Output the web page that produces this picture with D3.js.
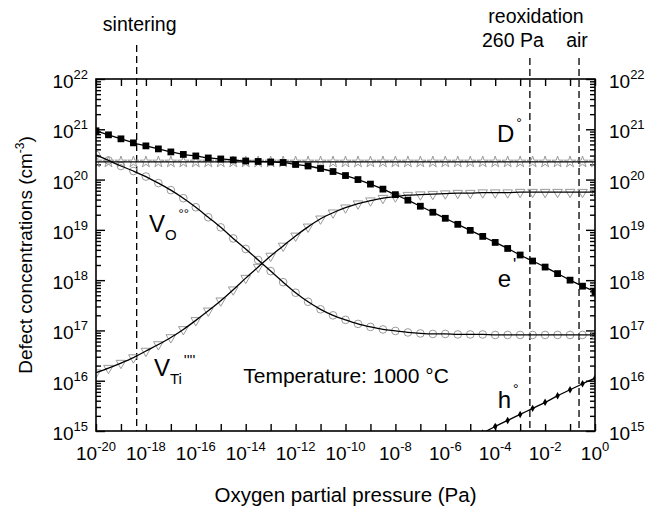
<!DOCTYPE html>
<html>
<head>
<meta charset="utf-8">
<script src="https://cdn.jsdelivr.net/npm/d3@7"></script>
<style>
  body { margin: 0; background: #fff; }
  text { font-family: "Liberation Sans", Arial, sans-serif; fill: #000; }
</style>
</head>
<body>
<div id="chart"></div>
<script>

// oxygen partial pressure, log10(Pa)
var pressureExp = [-20, -19.5, -19, -18.5, -18, -17.5, -17, -16.5, -16, -15.5,
  -15, -14.5, -14, -13.5, -13, -12.5, -12, -11.5, -11, -10.5,
  -10, -9.5, -9, -8.5, -8, -7.5, -7, -6.5, -6, -5.5,
  -5, -4.5, -4, -3.5, -3, -2.5, -2, -1.5, -1, -0.5, 0];

// defect concentrations, log10(cm^-3)
var electrons = [20.97, 20.89, 20.81, 20.73, 20.67, 20.61, 20.55, 20.50, 20.47, 20.43,
  20.41, 20.39, 20.37, 20.36, 20.35, 20.34, 20.30, 20.27, 20.22, 20.16,
  20.08, 20.00, 19.91, 19.81, 19.70, 19.59, 19.47, 19.35, 19.23, 19.11,
  18.99, 18.87, 18.75, 18.63, 18.50, 18.38, 18.26, 18.13, 18.00, 17.88, 17.77];

var donors = [20.35, 20.35, 20.35, 20.35, 20.35, 20.35, 20.35, 20.35, 20.35, 20.35,
  20.35, 20.35, 20.35, 20.35, 20.35, 20.35, 20.35, 20.35, 20.35, 20.35,
  20.35, 20.35, 20.35, 20.35, 20.35, 20.35, 20.35, 20.35, 20.35, 20.35,
  20.35, 20.35, 20.35, 20.35, 20.35, 20.35, 20.35, 20.35, 20.35, 20.35, 20.35];

var oxygenVacancies = [20.49, 20.38, 20.27, 20.17, 20.06, 19.93, 19.79, 19.63, 19.45, 19.25,
  19.05, 18.83, 18.62, 18.40, 18.18, 17.96, 17.75, 17.57, 17.42, 17.30,
  17.21, 17.13, 17.07, 17.02, 16.99, 16.96, 16.94, 16.93, 16.93, 16.92,
  16.92, 16.92, 16.91, 16.91, 16.91, 16.91, 16.91, 16.91, 16.91, 16.91, 16.91];

var titaniumVacancies = [16.16, 16.25, 16.35, 16.46, 16.59, 16.72, 16.86, 17.02, 17.20, 17.39,
  17.59, 17.81, 18.04, 18.26, 18.48, 18.68, 18.88, 19.06, 19.22, 19.34,
  19.44, 19.52, 19.58, 19.63, 19.66, 19.69, 19.70, 19.71, 19.72, 19.73,
  19.73, 19.74, 19.74, 19.74, 19.75, 19.75, 19.75, 19.75, 19.75, 19.75, 19.75];

var holePressureExp = [-4.5, -4, -3.5, -3, -2.5, -2, -1.5, -1, -0.5, 0];
var holes = [14.96, 15.09, 15.21, 15.33, 15.45, 15.57, 15.70, 15.82, 15.94, 16.05];

var xTickExps = [-20, -19, -18, -17, -16, -15, -14, -13, -12, -11, -10,
  -9, -8, -7, -6, -5, -4, -3, -2, -1, 0];
var xLabelExps = [-20, -18, -16, -14, -12, -10, -8, -6, -4, -2, 0];
var yLabelExps = [15, 16, 17, 18, 19, 20, 21, 22];

// process conditions marked with dashed lines, log10(Pa)
var conditionNames = ["sintering", "260 Pa", "air"];
var conditionExps = [-18.37, -2.61, -0.64];

var width = 645, height = 507;
var plotLeft = 96, plotRight = 595, plotTop = 79, plotBottom = 431;

var svg = d3.select("#chart")
  .append("svg")
  .attr("width", width)
  .attr("height", height);

var x = d3.scaleLog().domain([1e-20, 1]).range([plotLeft, plotRight]);
var y = d3.scaleLog().domain([1e15, 1e22]).range([plotBottom, plotTop]);

function px(e) { return x(Math.pow(10, e)); }
function py(e) { return y(Math.pow(10, e)); }

svg.append("defs").append("clipPath")
  .attr("id", "plotclip")
  .append("rect")
  .attr("x", plotLeft).attr("y", plotTop)
  .attr("width", plotRight - plotLeft).attr("height", plotBottom - plotTop);

// axes, ticks pointing inward
var majorY = yLabelExps.map(function (e) { return Math.pow(10, e); });
var minorY = y.ticks().filter(function (v) {
  return Math.abs(Math.log10(v) - Math.round(Math.log10(v))) > 1e-6;
});
var xTicks = xTickExps.map(function (e) { return Math.pow(10, e); });

function addAxis(axis, tx, ty) {
  var g = svg.append("g")
    .attr("transform", "translate(" + tx + "," + ty + ")")
    .call(axis);
  g.select(".domain").remove();
  g.selectAll("line").attr("stroke", "#000").attr("stroke-width", 1.4);
  g.selectAll("text").remove();
}

addAxis(d3.axisBottom(x).tickValues(xTicks).tickSize(-7), 0, plotBottom);
addAxis(d3.axisTop(x).tickValues(xTicks).tickSize(-7), 0, plotTop);
addAxis(d3.axisLeft(y).tickValues(majorY).tickSize(-9), plotLeft, 0);
addAxis(d3.axisLeft(y).tickValues(minorY).tickSize(-5), plotLeft, 0);
addAxis(d3.axisRight(y).tickValues(majorY).tickSize(-9), plotRight, 0);
addAxis(d3.axisRight(y).tickValues(minorY).tickSize(-5), plotRight, 0);

// tick labels 10^n
function powerLabel(sel, anchor) {
  sel.attr("text-anchor", anchor)
    .style("font-size", "19px");
  sel.append("tspan").text("10");
  sel.append("tspan")
    .attr("dy", -9)
    .style("font-size", "13px")
    .text(function (d) { return d; });
}

svg.append("g").selectAll("text")
  .data(xLabelExps)
  .enter().append("text")
  .attr("x", function (d) { return px(d); })
  .attr("y", 460)
  .call(powerLabel, "middle");

svg.append("g").selectAll("text")
  .data(yLabelExps)
  .enter().append("text")
  .attr("x", plotLeft - 8)
  .attr("y", function (d) { return py(d) + 9; })
  .call(powerLabel, "end");

svg.append("g").selectAll("text")
  .data(yLabelExps)
  .enter().append("text")
  .attr("x", plotRight + 14)
  .attr("y", function (d) { return py(d) + 9; })
  .call(powerLabel, "start");

// axis titles
svg.append("text")
  .attr("x", (plotLeft + plotRight) / 2)
  .attr("y", 502)
  .attr("text-anchor", "middle")
  .style("font-size", "20.5px")
  .text("Oxygen partial pressure (Pa)");

var yTitle = svg.append("text")
  .attr("transform", "translate(32," + ((plotTop + plotBottom) / 2) + ") rotate(-90)")
  .attr("text-anchor", "middle")
  .style("font-size", "19px");
yTitle.append("tspan").text("Defect concentrations (cm");
yTitle.append("tspan").attr("dy", -8).style("font-size", "12px").text("-3");
yTitle.append("tspan").attr("dy", 8).text(")");

// dashed condition lines
var dashTops = [45, 58, 58];
svg.append("g").selectAll("line")
  .data(conditionExps)
  .enter().append("line")
  .attr("x1", function (d) { return px(d); })
  .attr("x2", function (d) { return px(d); })
  .attr("y1", function (d, i) { return dashTops[i]; })
  .attr("y2", plotBottom)
  .attr("stroke", "#000")
  .attr("stroke-width", 1.3)
  .attr("stroke-dasharray", "7,4");

svg.append("text").attr("x", px(conditionExps[0]) + 3).attr("y", 31)
  .attr("text-anchor", "middle").style("font-size", "19.5px").text(conditionNames[0]);
svg.append("text").attr("x", 536).attr("y", 23)
  .attr("text-anchor", "middle").style("font-size", "19.5px").text("reoxidation");
svg.append("text").attr("x", px(conditionExps[1]) - 17).attr("y", 47)
  .attr("text-anchor", "middle").style("font-size", "19.5px").text(conditionNames[1]);
svg.append("text").attr("x", px(conditionExps[2]) - 2).attr("y", 47)
  .attr("text-anchor", "middle").style("font-size", "19.5px").text(conditionNames[2]);

// curves and markers
var plot = svg.append("g").attr("clip-path", "url(#plotclip)");

function zip(ps, cs) {
  return ps.map(function (p, i) { return { p: p, c: cs[i] }; });
}

var line = d3.line()
  .x(function (d) { return px(d.p); })
  .y(function (d) { return py(d.c); })
  .curve(d3.curveMonotoneX);

var series = [
  { data: zip(pressureExp, donors), symbol: d3.symbolStar, size: 40, fill: "none", stroke: "#9a9a9a", rotate: 0 },
  { data: zip(pressureExp, oxygenVacancies), symbol: d3.symbolCircle, size: 46, fill: "none", stroke: "#9a9a9a", rotate: 0 },
  { data: zip(pressureExp, titaniumVacancies), symbol: d3.symbolTriangle, size: 40, fill: "none", stroke: "#9a9a9a", rotate: 180 },
  { data: zip(pressureExp, electrons), symbol: d3.symbolSquare, size: 46, fill: "#000", stroke: "none", rotate: 0 },
  { data: zip(holePressureExp, holes), symbol: d3.symbolDiamond, size: 16, fill: "#000", stroke: "none", rotate: 0 }
];

series.forEach(function (s) {
  plot.append("g").selectAll("path")
    .data(s.data)
    .enter().append("path")
    .attr("d", d3.symbol().type(s.symbol).size(s.size))
    .attr("transform", function (d) {
      return "translate(" + px(d.p) + "," + py(d.c) + ") rotate(" + s.rotate + ")";
    })
    .attr("fill", s.fill)
    .attr("stroke", s.stroke)
    .attr("stroke-width", 1);
});

series.forEach(function (s) {
  plot.append("path")
    .datum(s.data)
    .attr("d", line)
    .attr("fill", "none")
    .attr("stroke", "#000")
    .attr("stroke-width", 1.3);
});

// frame
svg.append("rect")
  .attr("x", plotLeft).attr("y", plotTop)
  .attr("width", plotRight - plotLeft).attr("height", plotBottom - plotTop)
  .attr("fill", "none")
  .attr("stroke", "#000")
  .attr("stroke-width", 1.6);

// species labels
function species(p, c, main, sub, sup, subSize, supDy) {
  var t = svg.append("text")
    .attr("x", px(p)).attr("y", py(c))
    .style("font-size", "24px");
  t.append("tspan").text(main);
  if (sub) {
    t.append("tspan").attr("dy", 8).style("font-size", "15px").text(sub);
  }
  if (sup) {
    t.append("tspan").attr("dx", 2).attr("dy", supDy)
      .style("font-size", subSize + "px").text(sup);
  }
}

species(-3.93, 20.75, "D", null, "°", 14, -14);
species(-17.88, 18.96, "V", "O", "°°", 13, -22);
species(-17.68, 16.09, "V", "Ti", "''''", 15, -19);
species(-3.9, 17.87, "e", null, "'", 17, -17);
species(-3.9, 15.46, "h", null, "°", 14, -14);

svg.append("text")
  .attr("x", px(-14.1)).attr("y", py(15.95))
  .style("font-size", "21px")
  .text("Temperature: 1000 °C");

</script>
</body>
</html>
